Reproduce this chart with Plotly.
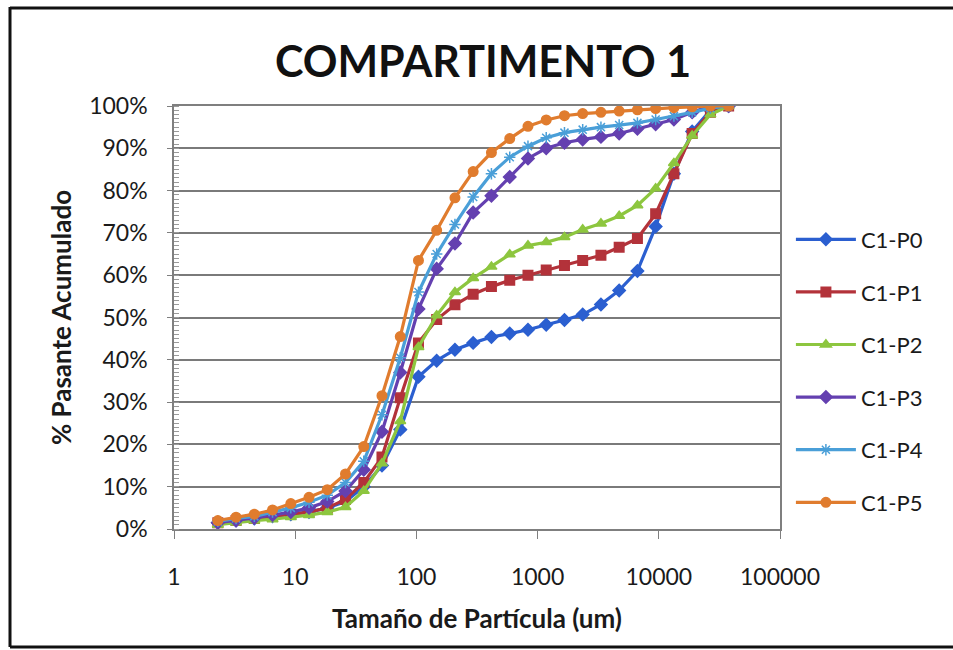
import plotly.graph_objects as go

# Particle sizes (um)
sizes = [2.3, 3.25, 4.6, 6.5, 9.2, 13.0, 18.4, 26.0, 36.8, 52.0, 73.6, 104, 147, 208, 294,
         416, 589, 833, 1178, 1666, 2355, 3331, 4710, 6662, 9421, 13323, 18842, 26646, 37683]

# % passing (cumulative)
p0 = [1.5, 2.0, 2.5, 3.0, 3.5, 4.0, 5.0, 6.5, 10.0, 15.0, 23.5, 36.0, 39.8, 42.4, 44.0,
      45.4, 46.2, 47.1, 48.3, 49.4, 50.7, 53.1, 56.4, 61.0, 71.5, 84.0, 94.0, 99.0, 100.0]
p1 = [1.5, 2.0, 2.5, 3.0, 3.5, 4.0, 5.0, 7.0, 11.0, 17.0, 31.0, 44.0, 49.5, 53.0, 55.5,
      57.3, 58.8, 60.0, 61.2, 62.3, 63.5, 64.7, 66.6, 68.7, 74.5, 84.0, 93.5, 98.5, 100.0]
p2 = [1.0, 1.5, 2.0, 2.3, 2.8, 3.3, 4.0, 5.2, 9.0, 15.5, 25.5, 43.0, 50.5, 56.0, 59.3,
      62.0, 64.9, 67.0, 67.8, 69.0, 70.8, 72.2, 74.0, 76.5, 80.5, 86.5, 93.0, 98.0, 100.0]
p3 = [1.5, 2.0, 2.6, 3.3, 4.0, 5.0, 6.5, 9.0, 14.0, 23.0, 37.0, 52.0, 61.5, 67.5, 74.8,
      78.8, 83.2, 87.6, 90.0, 91.3, 92.1, 92.7, 93.5, 94.6, 95.7, 96.8, 98.5, 100.0, 100.0]
p4 = [1.8, 2.5, 3.0, 4.0, 5.0, 6.3, 8.0, 11.0, 16.0, 27.0, 40.5, 56.0, 65.0, 72.0, 78.5,
      84.0, 87.9, 90.5, 92.5, 93.7, 94.4, 95.0, 95.5, 96.0, 96.8, 97.6, 98.5, 99.5, 100.0]
p5 = [2.0, 2.8, 3.5, 4.5, 6.0, 7.5, 9.3, 13.0, 19.5, 31.5, 45.5, 63.5, 70.6, 78.3, 84.5,
      89.0, 92.3, 95.2, 96.7, 97.7, 98.2, 98.5, 98.8, 99.1, 99.4, 99.6, 99.8, 100.0, 100.0]

names = ["C1-P0", "C1-P1", "C1-P2", "C1-P3", "C1-P4", "C1-P5"]
series = [p0, p1, p2, p3, p4, p5]
colors = ["#2b5fd0", "#b3323a", "#8dc63f", "#6440b0", "#4a9fd8", "#e07c2e"]
symbols = ["diamond", "square", "triangle-up", "diamond", "asterisk-open", "circle"]

x_tickvals = [1, 10, 100, 1000, 10000, 100000]
x_ticktext = ["1", "10", "100", "1000", "10000", "100000"]

FONT = "Lato"
W, H = 953, 650
L, R, T, B = 174, 173, 106, 121
PW, PH = W - L - R, H - T - B

fig = go.Figure()
for i, (nm, ys) in enumerate(zip(names, series)):
    fig.add_trace(go.Scatter(
        x=sizes, y=ys, name=nm, mode="lines+markers", legendgroup=nm,
        line=dict(color=colors[i], width=3.2),
        marker=dict(symbol=symbols[i], size=9.5, color=colors[i],
                    line=dict(color=colors[i], width=1.5)),
    ))

fig.update_layout(
    width=W, height=H,
    paper_bgcolor="white", plot_bgcolor="white",
    margin=dict(l=L, r=R, t=T, b=B),
    font=dict(family=FONT, color="#1a1a1a"),
    title=dict(text="<b>COMPARTIMENTO 1</b>", x=483 / W, xanchor="center",
               y=1 - 62 / H, yanchor="middle", font=dict(size=43, family=FONT, color="#111")),
    legend=dict(x=1.018, xanchor="left", y=0.3735, yanchor="middle",
                font=dict(size=22, family=FONT, color="#1a1a1a"),
                tracegroupgap=21, itemwidth=60),
    showlegend=True,
)

fig.update_xaxes(
    type="log", range=[0, 5], tickvals=x_tickvals, ticktext=x_ticktext,
    showgrid=False, showline=True, linecolor="#7f7f7f", linewidth=1.5,
    mirror=True, ticks="outside", ticklen=8, tickcolor="#7f7f7f",
    ticklabelstandoff=19, tickfont=dict(size=23, family=FONT, color="#1a1a1a"),
    title=dict(text="<b>Tamaño de Partícula (um)</b>", font=dict(size=26, family=FONT), standoff=20),
)
fig.update_yaxes(
    range=[0, 100], dtick=10, ticksuffix="%",
    showgrid=True, gridcolor="#7a7a7a", gridwidth=1.5,
    showline=True, linecolor="#7f7f7f", linewidth=1.5, mirror=True,
    ticks="outside", ticklen=5, tickcolor="#7f7f7f",
    minor=dict(dtick=1, ticks="inside", ticklen=5, tickcolor="#9a9a9a", showgrid=False),
    ticklabelstandoff=15, tickfont=dict(size=23, family=FONT, color="#1a1a1a"),
    title=dict(text="<b>% Pasante Acumulado</b>", font=dict(size=26, family=FONT), standoff=10),
)

# outer chart frame: left, top and bottom edges
def px(xp):
    return (xp - L) / PW

def py(yp):
    return (T + PH - yp) / PH

frame = [((10, 7), (10, 647)), ((10, 8), (953, 8)), ((10, 647), (953, 647))]
for (xa, ya), (xb, yb) in frame:
    fig.add_shape(type="line", xref="paper", yref="paper",
                  x0=px(xa), y0=py(ya), x1=px(xb), y1=py(yb),
                  line=dict(color="#111", width=3))

fig.write_html("out.html", config={"displayModeBar": False},
               post_script="document.body.style.margin='0';document.body.style.overflow='hidden';")
